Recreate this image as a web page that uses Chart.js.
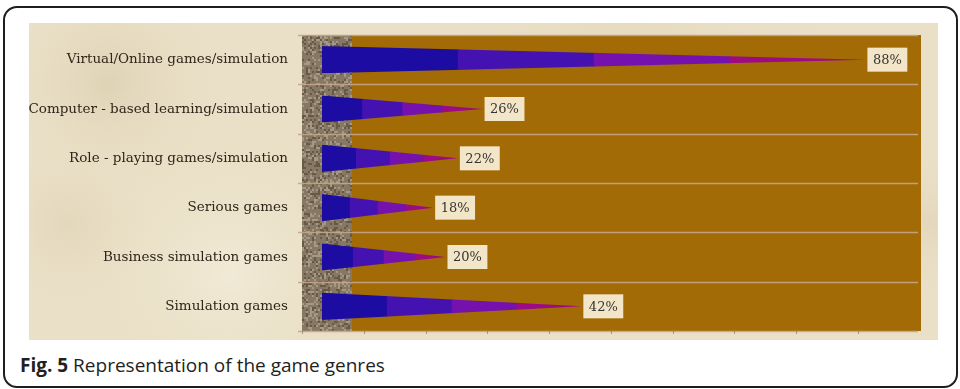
<!DOCTYPE html>
<html>
<head>
<meta charset="utf-8">
<script src="https://cdn.jsdelivr.net/npm/chart.js@4.4.1/dist/chart.umd.min.js"></script>
<style>
  html, body { margin: 0; padding: 0; background: #fff; }
  body { width: 960px; height: 389px; position: relative; overflow: hidden; }
  .frame {
    position: absolute; left: 3px; top: 6px; width: 951px; height: 378px;
    border: 2px solid #1e1e1e; border-radius: 14px;
  }
  .plot { position: absolute; left: 29px; top: 23px; width: 909px; height: 317px; }
  .caption {
    position: absolute; left: 20px; top: 352px; line-height: 26px;
    font-family: "Open Sans", "Noto Sans", sans-serif; font-size: 19px; color: #231f20;
  }
  .caption b { font-weight: 700; }
</style>
</head>
<body>
<div class="frame"></div>
<div class="plot"><canvas id="genreChart"></canvas></div>
<div class="caption"><b>Fig. 5</b> Representation of the game genres</div>
<script>
const categories = [
  'Virtual/Online games/simulation',
  'Computer - based learning/simulation',
  'Role - playing games/simulation',
  'Serious games',
  'Business simulation games',
  'Simulation games'
];
const shares = [88, 26, 22, 18, 20, 42];
const axisMax = 97;
const tickStep = 10;

// colour bands along each pyramid bar, base to tip
const bandColors = ['#1d0ca2', '#4512b2', '#7511ad', '#9c0a84'];

// parchment, brown plot floor and the stone side wall
const backdrop = {
  id: 'backdrop',
  beforeDraw(chart) {
    const { ctx, width, height, chartArea } = chart;
    const { left, right, top, bottom } = chartArea;
    ctx.save();
    ctx.fillStyle = '#eae0c7';
    ctx.fillRect(0, 0, width, height);
    // a few soft blotches for the paper look
    const spots = [[80, 60, 120, 'rgba(214,200,168,0.55)'], [200, 250, 140, 'rgba(244,238,220,0.7)'],
                   [40, 200, 90, 'rgba(220,206,176,0.5)'], [600, 0, 260, 'rgba(226,214,186,0.5)'],
                   [900, 200, 80, 'rgba(222,210,180,0.6)']];
    spots.forEach(([x, y, r, c]) => {
      const g = ctx.createRadialGradient(x, y, 0, x, y, r);
      g.addColorStop(0, c);
      g.addColorStop(1, 'rgba(234,224,199,0)');
      ctx.fillStyle = g;
      ctx.fillRect(0, 0, width, height);
    });
    ctx.fillStyle = '#a36b05';
    ctx.fillRect(left - 20, top, right - left + 20, bottom - top);
    // wall with a fine speckle
    ctx.fillStyle = '#867862';
    ctx.fillRect(left - 20, top, 50, bottom - top);
    for (let yy = top; yy < bottom; yy += 2) {
      for (let xx = left - 20; xx < left + 30; xx += 2) {
        const h = Math.sin(xx * 12.9898 + yy * 78.233) * 43758.5453;
        const f = h - Math.floor(h);
        if (f > 0.6) {
          ctx.fillStyle = f > 0.8 ? 'rgba(190,180,160,0.55)' : 'rgba(70,58,40,0.5)';
          ctx.fillRect(xx, yy, 2, 2);
        }
      }
    }
    // category separators
    const n = categories.length;
    const step = (bottom - top) / n;
    ctx.strokeStyle = 'rgba(196,166,140,0.9)';
    ctx.lineWidth = 1.5;
    for (let i = 0; i <= n; i++) {
      const y = Math.round(top + i * step) + 0.5;
      ctx.beginPath();
      ctx.moveTo(left - 24, y);
      ctx.lineTo(right - 3, y);
      ctx.stroke();
    }
    // small floor ticks along the value axis (set back by the wall depth)
    const xs = chart.scales.x;
    ctx.strokeStyle = 'rgba(120,110,95,0.6)';
    ctx.lineWidth = 1;
    for (let v = 0; v <= axisMax; v += tickStep) {
      const x = Math.round(xs.getPixelForValue(v) - 20) + 0.5;
      ctx.beginPath();
      ctx.moveTo(x, bottom);
      ctx.lineTo(x, bottom + 3);
      ctx.stroke();
    }
    ctx.restore();
  }
};

// pyramid-shaped bars plus the value boxes
const pyramids = {
  id: 'pyramids',
  afterDatasetsDraw(chart) {
    const { ctx } = chart;
    const meta = chart.getDatasetMeta(0);
    ctx.save();
    meta.data.forEach((bar, i) => {
      const { x, y, base, height } = bar.getProps(['x', 'y', 'base', 'height'], true);
      const len = x - base;
      ctx.save();
      ctx.beginPath();
      ctx.moveTo(base, y - height / 2);
      ctx.lineTo(x, y);
      ctx.lineTo(base, y + height / 2);
      ctx.closePath();
      ctx.clip();
      bandColors.forEach((c, k) => {
        ctx.fillStyle = c;
        ctx.fillRect(base + len * k / 4, y - height / 2, len / 4 + 1, height);
      });
      ctx.restore();

      const text = shares[i] + '%';
      ctx.font = '13px "DejaVu Serif", serif';
      const w = ctx.measureText(text).width + 11;
      const bx = x + 2;
      ctx.fillStyle = '#f3e6c8';
      ctx.fillRect(bx, y - 12, w, 24);
      ctx.fillStyle = '#363431';
      ctx.textBaseline = 'middle';
      ctx.fillText(text, bx + 5.5, y + 1);
    });
    ctx.restore();
  }
};

new Chart(document.getElementById('genreChart'), {
  type: 'bar',
  data: {
    labels: categories,
    datasets: [{
      data: shares,
      backgroundColor: 'rgba(0,0,0,0)',
      borderWidth: 0,
      barPercentage: 0.55,
      categoryPercentage: 1
    }]
  },
  options: {
    indexAxis: 'y',
    responsive: true,
    maintainAspectRatio: false,
    animation: false,
    layout: { padding: { top: 12, bottom: 9, right: 17, left: 0 } },
    plugins: { legend: { display: false }, tooltip: { enabled: false } },
    scales: {
      x: { type: 'linear', min: 0, max: axisMax, display: false },
      y: {
        grid: { display: false, drawTicks: false },
        border: { display: false },
        ticks: {
          padding: 34,
          color: '#302519',
          font: { family: '"DejaVu Serif", serif', size: 13.5 }
        },
        afterFit(scale) {
          scale.width = 293;
          scale.paddingTop = 0;
          scale.paddingBottom = 0;
        }
      }
    }
  },
  plugins: [backdrop, pyramids]
});
</script>
</body>
</html>
